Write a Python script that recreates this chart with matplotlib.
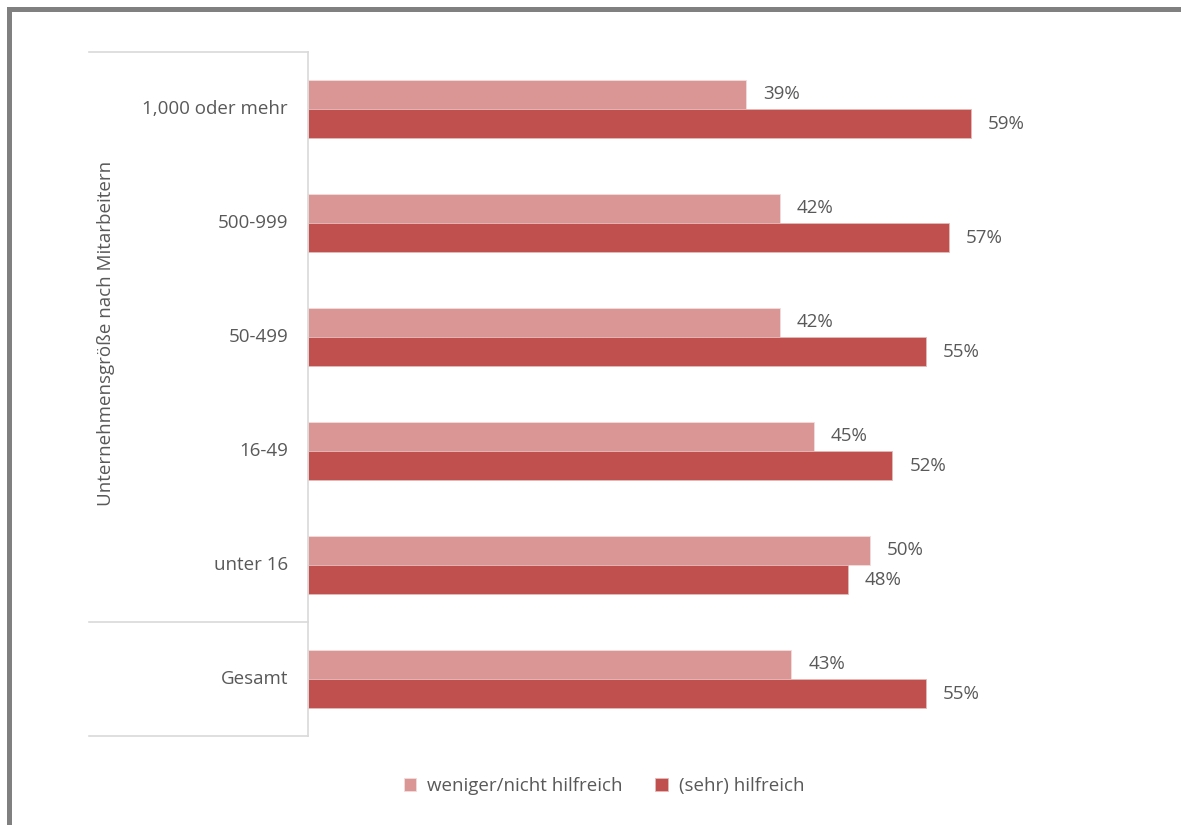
import numpy as np
import matplotlib
matplotlib.use('Agg')
import matplotlib.pyplot as plt
from matplotlib.patches import Rectangle
from matplotlib.lines import Line2D

# data (top to bottom as in the chart)
categories = ['1,000 oder mehr', '500-999', '50-499', '16-49', 'unter 16', 'Gesamt']
weniger = [39, 42, 42, 45, 50, 43]
hilfreich = [59, 57, 55, 52, 48, 55]
series_names = ['weniger/nicht hilfreich', '(sehr) hilfreich']

c_light = '#D99694'
c_dark = '#C0504D'
txt = '#595959'
grid_c = '#D9D9D9'
fs = 13.5

plt.rcParams['font.family'] = ['Open Sans', 'DejaVu Sans']

W, H = 1181, 825
fig = plt.figure(figsize=(W / 100, H / 100), dpi=100)

# axes placed in pixel coordinates
x0, x1 = 308, 1151
y_top, y_bot = 52, 736
ax = fig.add_axes([x0 / W, 1 - y_bot / H, (x1 - x0) / W, (y_bot - y_top) / H])

n = len(categories)
y = np.arange(n)[::-1]  # first category at top
h = 0.255
ax.barh(y + h / 2, weniger, height=h, color=c_light, edgecolor='#F2DCDB', linewidth=0.6,
        label=series_names[0])
ax.barh(y - h / 2, hilfreich, height=h, color=c_dark, edgecolor='#E6B9B8', linewidth=0.6,
        label=series_names[1])

for yi, v in zip(y, weniger):
    ax.annotate(f'{v}%', (v, yi + h / 2), xytext=(17, 0), textcoords='offset pixels',
                va='center', ha='left', fontsize=fs, color=txt)
for yi, v in zip(y, hilfreich):
    ax.annotate(f'{v}%', (v, yi - h / 2), xytext=(17, 0), textcoords='offset pixels',
                va='center', ha='left', fontsize=fs, color=txt)

ax.set_xlim(0, 75)
ax.set_ylim(-0.5, n - 0.5)
ax.set_xticks([])
ax.set_yticks([])
for s in ax.spines.values():
    s.set_visible(False)

# category labels
for yi, c in zip(y, categories):
    ax.text(-20 / 11.24, yi, c, ha='right', va='center', fontsize=fs, color=txt)

# grouping lines on the left side
def fx(px):
    return px / W

def fy(py):
    return 1 - py / H

fig.add_artist(Line2D([fx(308), fx(308)], [fy(52), fy(736)], color=grid_c, lw=1.2))
for py in [52, 622, 736]:
    fig.add_artist(Line2D([fx(89), fx(308)], [fy(py), fy(py)], color=grid_c, lw=1.2))

fig.text(fx(106), fy(333), 'Unternehmensgröße nach Mitarbeitern', rotation=90,
         ha='center', va='center', fontsize=fs, color=txt)

# legend
leg = fig.legend(loc='center', bbox_to_anchor=(fx(604), fy(786)), ncol=2, frameon=False,
                 fontsize=fs, handlelength=0.65, handleheight=0.65, columnspacing=1.75,
                 handletextpad=0.6)
for t in leg.get_texts():
    t.set_color(txt)

# outer frame (cropped on right and bottom)
fig.add_artist(Rectangle((fx(8.5), fy(900)), fx(1300), fy(9.5) - fy(900), fill=False,
                         edgecolor='#808080', lw=3.6, transform=fig.transFigure))

fig.savefig('out.png', dpi=100)
